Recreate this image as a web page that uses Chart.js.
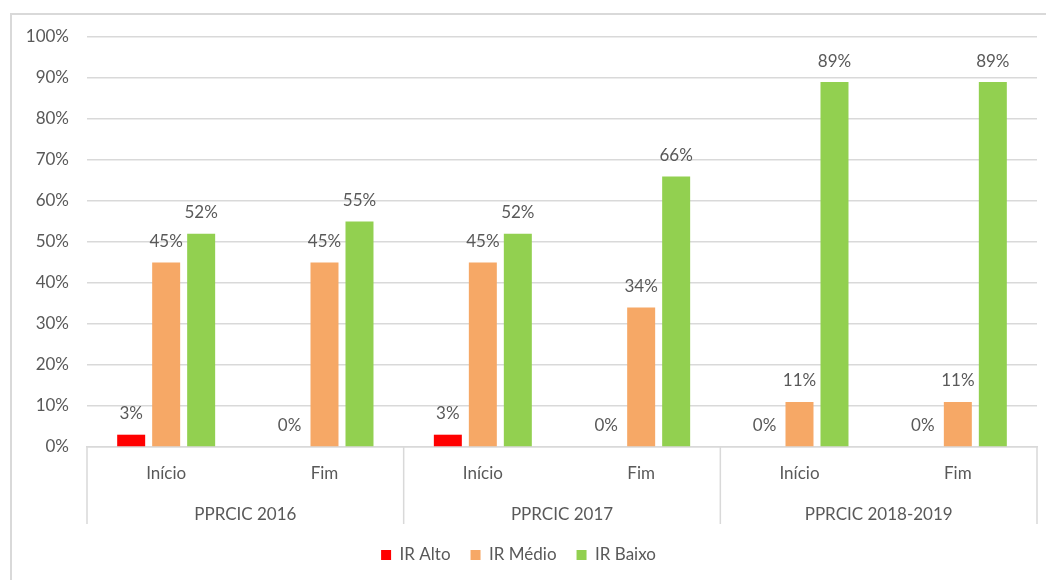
<!DOCTYPE html>
<html>
<head>
<meta charset="utf-8">
<script src="https://cdn.jsdelivr.net/npm/chart.js@4"></script>
<style>
  body { margin: 0; background: #fff; overflow: hidden; }
  #frame { position: absolute; left: 10px; top: 13px; width: 1100px; height: 600px; border: 2px solid #d9d9d9; }
  #chart { position: absolute; left: 0; top: 0; }
</style>
</head>
<body>
<div id="frame"></div>
<canvas id="chart" width="1046" height="580"></canvas>
<script>
const categories = ['Início', 'Fim', 'Início', 'Fim', 'Início', 'Fim'];
const groups = ['PPRCIC 2016', 'PPRCIC 2017', 'PPRCIC 2018-2019'];
const irAlto = [3, 0, 3, 0, 0, 0];
const irMedio = [45, 45, 45, 34, 11, 11];
const irBaixo = [52, 55, 52, 66, 89, 89];

Chart.defaults.font.family = 'Lato';
Chart.defaults.font.size = 17;
Chart.defaults.color = '#595959';

// rótulos de valor em cima das barras
const valueLabels = {
  id: 'valueLabels',
  afterDatasetsDraw(chart) {
    const ctx = chart.ctx;
    ctx.save();
    ctx.font = '17px Lato';
    ctx.fillStyle = '#595959';
    ctx.textAlign = 'center';
    ctx.textBaseline = 'middle';
    chart.data.datasets.forEach((ds, i) => {
      chart.getDatasetMeta(i).data.forEach((bar, j) => {
        ctx.fillText(ds.data[j] + '%', bar.x, bar.y - 21);
      });
    });
    ctx.restore();
  }
};

// linhas verticais separando os grupos do eixo
const groupLines = {
  id: 'groupLines',
  afterDraw(chart) {
    const x = chart.scales.x;
    const half = (x.getPixelForValue(1) - x.getPixelForValue(0)) / 2;
    const ctx = chart.ctx;
    ctx.save();
    ctx.strokeStyle = '#d9d9d9';
    ctx.lineWidth = 1.5;
    for (let g = 0; g <= groups.length; g++) {
      const px = g < groups.length ? x.getPixelForValue(g * 2) - half : x.getPixelForValue(categories.length - 1) + half;
      ctx.beginPath();
      ctx.moveTo(px, chart.chartArea.bottom);
      ctx.lineTo(px, 524);
      ctx.stroke();
    }
    ctx.restore();
  }
};

new Chart(document.getElementById('chart'), {
  type: 'bar',
  data: {
    labels: categories,
    datasets: [
      { label: 'IR Alto', data: irAlto, backgroundColor: '#FF0000' },
      { label: 'IR Médio', data: irMedio, backgroundColor: '#F6A866' },
      { label: 'IR Baixo', data: irBaixo, backgroundColor: '#92D050' }
    ]
  },
  options: {
    responsive: false,
    animation: false,
    categoryPercentage: 0.663,
    barPercentage: 0.8,
    layout: { padding: { left: 0, right: 9, top: 37, bottom: 6.5 } },
    plugins: {
      tooltip: { enabled: false },
      legend: {
        position: 'bottom',
        labels: { boxWidth: 10, boxHeight: 10, padding: 20, color: '#595959', font: { size: 17 } }
      }
    },
    scales: {
      y: {
        min: 0,
        max: 100,
        ticks: { stepSize: 10, padding: 18, callback: v => v + '%' },
        grid: { color: '#d9d9d9', lineWidth: 1.5, drawTicks: false },
        border: { display: false },
        afterFit: s => { s.width = 87; }
      },
      x: {
        grid: { drawOnChartArea: false, drawTicks: false },
        border: { color: '#d9d9d9', width: 1.5 },
        ticks: { padding: 16, maxRotation: 0 },
        afterFit: s => { s.height = 50; }
      },
      x2: {
        type: 'category',
        position: 'bottom',
        labels: groups,
        offset: true,
        grid: { display: false, drawTicks: false },
        border: { display: false },
        ticks: { padding: 7, maxRotation: 0 },
        afterFit: s => { s.height = 29.5; }
      }
    }
  },
  plugins: [valueLabels, groupLines]
});
</script>
</body>
</html>
